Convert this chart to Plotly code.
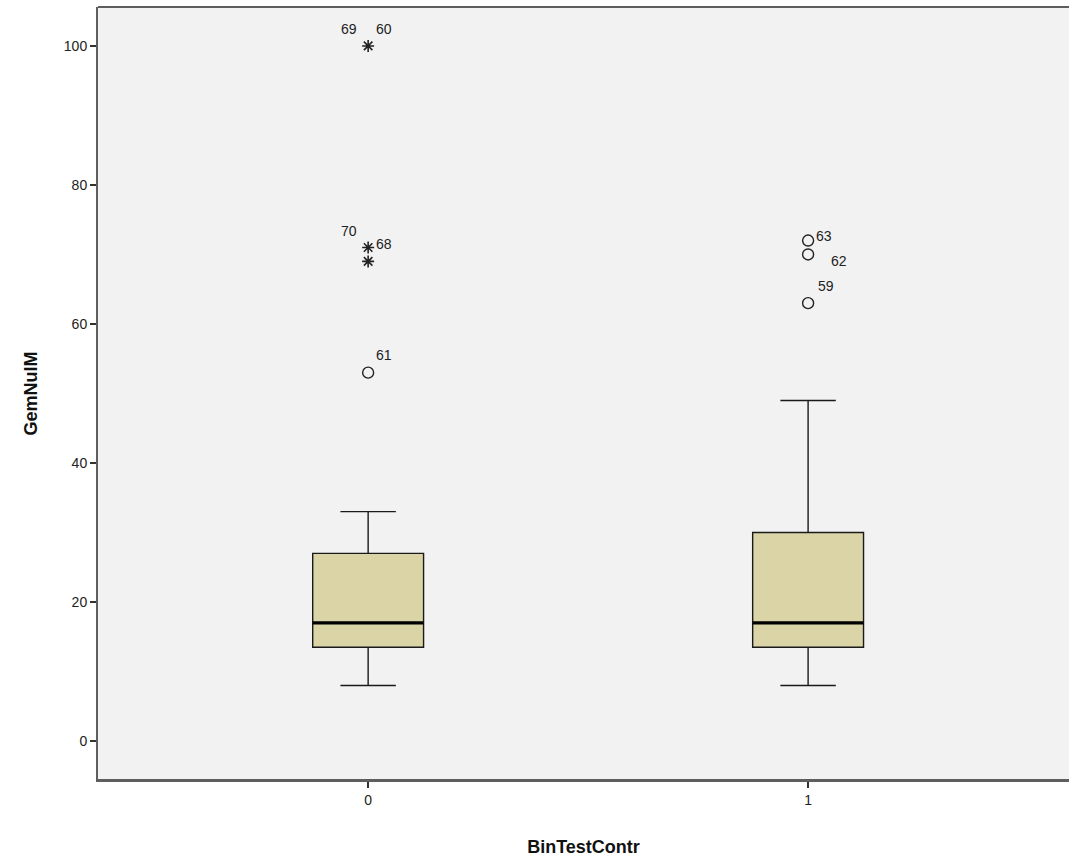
import plotly.graph_objects as go

# ---- data ----
categories = [0, 1]
q1 = [13.5, 13.5]
median = [17, 17]
q3 = [27, 30]
lower_whisker = [8, 8]
upper_whisker = [33, 49]

# outliers: group, value, label
circle_x = [0, 1, 1, 1]
circle_y = [53, 72, 70, 63]
circle_lab = ["61", "63", "62", "59"]

star_x = [0, 0, 0]
star_y = [100, 71, 69]

star_lab_x = [0, 0, 0, 0]
star_lab_y = [100, 100, 71, 71]
star_lab = ["69", "60", "70", "68"]

y_ticks = [0, 20, 40, 60, 80, 100]
x_tick_labels = ["0", "1"]

# ---- style ----
BOX_W = 0.252
FILL = "#DBD4A7"
FONT = "Liberation Sans, Arial, sans-serif"
AXIS_COL = "#5e5e5e"

# label pixel offsets (xshift, yshift)
circle_off = [(16, 18), (16, 5), (31, -7), (18, 17)]
star_off = [(-19, 17), (16, 17), (-19, 17), (16, 4)]

fig = go.Figure()

fig.add_trace(go.Box(
    x=categories, q1=q1, median=median, q3=q3,
    lowerfence=lower_whisker, upperfence=upper_whisker,
    width=BOX_W, whiskerwidth=0.5,
    fillcolor=FILL, line=dict(color="#1a1a1a", width=1.4),
    boxpoints=False, hoverinfo="skip", showlegend=False,
))

# thick median lines
mx, my = [], []
for c, m in zip(categories, median):
    mx += [c - BOX_W / 2, c + BOX_W / 2, None]
    my += [m, m, None]
fig.add_trace(go.Scatter(x=mx, y=my, mode="lines",
                         line=dict(color="black", width=3.2),
                         showlegend=False, hoverinfo="skip"))

fig.add_trace(go.Scatter(x=circle_x, y=circle_y, mode="markers",
                         marker=dict(symbol="circle-open", size=11, color="#222",
                                     line=dict(color="#222", width=1.4)),
                         showlegend=False))
fig.add_trace(go.Scatter(x=star_x, y=star_y, mode="markers",
                         marker=dict(symbol="asterisk-open", size=10, color="#222",
                                     line=dict(color="#222", width=1.6)),
                         showlegend=False))

for xv, yv, t, (dx, dy) in zip(circle_x, circle_y, circle_lab, circle_off):
    fig.add_annotation(x=xv, y=yv, text=t, showarrow=False, xshift=dx, yshift=dy,
                       font=dict(family=FONT, size=14, color="#222"))
for xv, yv, t, (dx, dy) in zip(star_lab_x, star_lab_y, star_lab, star_off):
    fig.add_annotation(x=xv, y=yv, text=t, showarrow=False, xshift=dx, yshift=dy,
                       font=dict(family=FONT, size=14, color="#222"))

# top and bottom border across full width
for yv in (0, 1):
    fig.add_shape(type="line", xref="paper", yref="paper", x0=0, x1=1, y0=yv, y1=yv,
                  line=dict(color=AXIS_COL, width=2))

fig.update_layout(
    width=1069, height=865,
    margin=dict(l=98, r=0, t=7, b=85),
    paper_bgcolor="white", plot_bgcolor="#F2F2F2",
    font=dict(family=FONT, size=13, color="#222"),
    xaxis=dict(range=[-0.614, 1.593], tickvals=categories, ticktext=x_tick_labels,
               showgrid=False, zeroline=False, showline=True, linecolor=AXIS_COL,
               linewidth=2, ticks="outside", ticklen=6, tickcolor="#333", tickwidth=1.5,
               tickfont=dict(size=14),
               title=dict(text="<b>BinTestContr</b>", font=dict(size=18, color="#111"),
                          standoff=34)),
    yaxis=dict(range=[-5.6, 105.6], tickvals=y_ticks,
               showgrid=False, zeroline=False, showline=True, linecolor=AXIS_COL,
               linewidth=2, ticks="outside", ticklen=6, tickcolor="#333", tickwidth=1.5,
               tickfont=dict(size=14),
               title=dict(text="<b>GemNulM</b>", font=dict(size=18, color="#111"),
                          standoff=22)),
)

fig.write_html("out.html")
